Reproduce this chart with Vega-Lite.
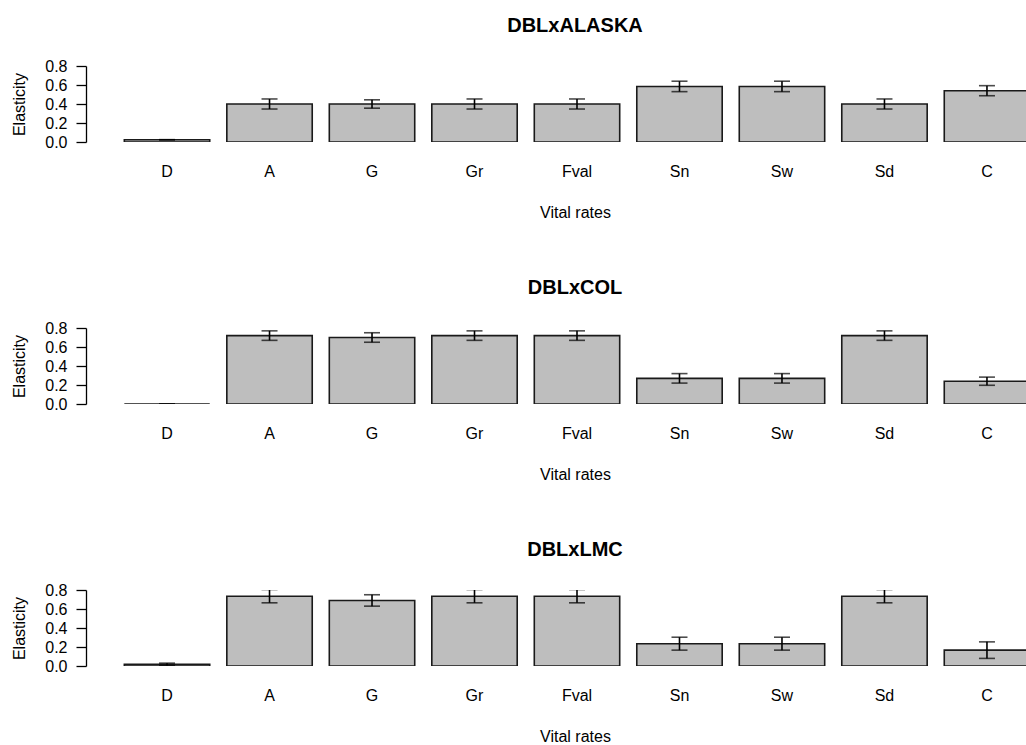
{
  "$schema": "https://vega.github.io/schema/vega-lite/v6.json",
  "padding": {"left": 11, "top": 16, "right": 0, "bottom": 0},
  "background": "white",
  "datasets": {
    "el": [
      {"panel": "DBLxALASKA", "rate": "D", "value": 0.024, "err": 0.0},
      {"panel": "DBLxALASKA", "rate": "A", "value": 0.40, "err": 0.053},
      {"panel": "DBLxALASKA", "rate": "G", "value": 0.40, "err": 0.044},
      {"panel": "DBLxALASKA", "rate": "Gr", "value": 0.40, "err": 0.053},
      {"panel": "DBLxALASKA", "rate": "Fval", "value": 0.40, "err": 0.053},
      {"panel": "DBLxALASKA", "rate": "Sn", "value": 0.585, "err": 0.055},
      {"panel": "DBLxALASKA", "rate": "Sw", "value": 0.585, "err": 0.055},
      {"panel": "DBLxALASKA", "rate": "Sd", "value": 0.40, "err": 0.053},
      {"panel": "DBLxALASKA", "rate": "C", "value": 0.54, "err": 0.053},
      {"panel": "DBLxCOL", "rate": "D", "value": 0.0, "err": 0.0},
      {"panel": "DBLxCOL", "rate": "A", "value": 0.72, "err": 0.05},
      {"panel": "DBLxCOL", "rate": "G", "value": 0.70, "err": 0.05},
      {"panel": "DBLxCOL", "rate": "Gr", "value": 0.72, "err": 0.05},
      {"panel": "DBLxCOL", "rate": "Fval", "value": 0.72, "err": 0.05},
      {"panel": "DBLxCOL", "rate": "Sn", "value": 0.27, "err": 0.05},
      {"panel": "DBLxCOL", "rate": "Sw", "value": 0.27, "err": 0.05},
      {"panel": "DBLxCOL", "rate": "Sd", "value": 0.72, "err": 0.05},
      {"panel": "DBLxCOL", "rate": "C", "value": 0.24, "err": 0.043},
      {"panel": "DBLxLMC", "rate": "D", "value": 0.018, "err": 0.012},
      {"panel": "DBLxLMC", "rate": "A", "value": 0.735, "err": 0.07},
      {"panel": "DBLxLMC", "rate": "G", "value": 0.69, "err": 0.06},
      {"panel": "DBLxLMC", "rate": "Gr", "value": 0.735, "err": 0.07},
      {"panel": "DBLxLMC", "rate": "Fval", "value": 0.735, "err": 0.07},
      {"panel": "DBLxLMC", "rate": "Sn", "value": 0.235, "err": 0.068},
      {"panel": "DBLxLMC", "rate": "Sw", "value": 0.235, "err": 0.068},
      {"panel": "DBLxLMC", "rate": "Sd", "value": 0.735, "err": 0.07},
      {"panel": "DBLxLMC", "rate": "C", "value": 0.167, "err": 0.087}
    ]
  },
  "spacing": 58,
  "vconcat": [
    {
      "title": {"text": "DBLxALASKA", "dx": 19},
      "width": 940, "height": 76,
      "data": {"name": "el"},
      "transform": [{"filter": "datum.panel === 'DBLxALASKA'"}],
      "encoding": {
        "x": {"field": "rate", "type": "nominal", "sort": ["D","A","G","Gr","Fval","Sn","Sw","Sd","C"],
              "scale": {"range": [0, 982], "paddingInner": 0.1667, "paddingOuter": 0.374},
              "axis": {"title": "Vital rates", "titleX": 489, "labelAngle": 0, "domain": false, "ticks": false, "labelPadding": 21, "titlePadding": 25}},
        "y": {"field": "value", "type": "quantitative", "scale": {"domain": [0, 0.8], "nice": false, "zero": true},
              "axis": {"title": "Elasticity", "values": [0, 0.2, 0.4, 0.6, 0.8], "format": ".1f", "grid": false, "tickSize": 10, "labelPadding": 9, "titlePadding": 17}}
      },
      "layer": [
        {"mark": {"type": "bar", "fill": "#bebebe", "stroke": "#1a1a1a", "strokeWidth": 1.6, "clip": true}},
        {"mark": {"type": "errorbar", "color": "black", "clip": true, "ticks": {"size": 16, "thickness": 1.6, "color": "black"}, "rule": {"strokeWidth": 1.6}},
         "encoding": {"yError": {"field": "err"}}}
      ]
    },
    {
      "title": {"text": "DBLxCOL", "dx": 19},
      "width": 940, "height": 76,
      "data": {"name": "el"},
      "transform": [{"filter": "datum.panel === 'DBLxCOL'"}],
      "encoding": {
        "x": {"field": "rate", "type": "nominal", "sort": ["D","A","G","Gr","Fval","Sn","Sw","Sd","C"],
              "scale": {"range": [0, 982], "paddingInner": 0.1667, "paddingOuter": 0.374},
              "axis": {"title": "Vital rates", "titleX": 489, "labelAngle": 0, "domain": false, "ticks": false, "labelPadding": 21, "titlePadding": 25}},
        "y": {"field": "value", "type": "quantitative", "scale": {"domain": [0, 0.8], "nice": false, "zero": true},
              "axis": {"title": "Elasticity", "values": [0, 0.2, 0.4, 0.6, 0.8], "format": ".1f", "grid": false, "tickSize": 10, "labelPadding": 9, "titlePadding": 17}}
      },
      "layer": [
        {"mark": {"type": "bar", "fill": "#bebebe", "stroke": "#1a1a1a", "strokeWidth": 1.6, "clip": true}},
        {"mark": {"type": "errorbar", "color": "black", "clip": true, "ticks": {"size": 16, "thickness": 1.6, "color": "black"}, "rule": {"strokeWidth": 1.6}},
         "encoding": {"yError": {"field": "err"}}}
      ]
    },
    {
      "title": {"text": "DBLxLMC", "dx": 19},
      "width": 940, "height": 76,
      "data": {"name": "el"},
      "transform": [{"filter": "datum.panel === 'DBLxLMC'"}],
      "encoding": {
        "x": {"field": "rate", "type": "nominal", "sort": ["D","A","G","Gr","Fval","Sn","Sw","Sd","C"],
              "scale": {"range": [0, 982], "paddingInner": 0.1667, "paddingOuter": 0.374},
              "axis": {"title": "Vital rates", "titleX": 489, "labelAngle": 0, "domain": false, "ticks": false, "labelPadding": 21, "titlePadding": 25}},
        "y": {"field": "value", "type": "quantitative", "scale": {"domain": [0, 0.8], "nice": false, "zero": true},
              "axis": {"title": "Elasticity", "values": [0, 0.2, 0.4, 0.6, 0.8], "format": ".1f", "grid": false, "tickSize": 10, "labelPadding": 9, "titlePadding": 17}}
      },
      "layer": [
        {"mark": {"type": "bar", "fill": "#bebebe", "stroke": "#1a1a1a", "strokeWidth": 1.6, "clip": true}},
        {"mark": {"type": "errorbar", "color": "black", "clip": true, "ticks": {"size": 16, "thickness": 1.6, "color": "black"}, "rule": {"strokeWidth": 1.6}},
         "encoding": {"yError": {"field": "err"}}}
      ]
    }
  ],
  "config": {
    "font": "Liberation Sans",
    "view": {"stroke": null},
    "axis": {"labelFont": "Liberation Sans", "labelFontSize": 16, "labelColor": "black", "titleFont": "Liberation Sans", "titleFontSize": 16, "titleFontWeight": "normal", "titleColor": "black", "domainColor": "black", "tickColor": "black", "domainWidth": 1.3, "tickWidth": 1.3},
    "title": {"font": "Liberation Sans", "fontSize": 20, "fontWeight": "bold", "color": "black", "offset": 22}
  }
}
